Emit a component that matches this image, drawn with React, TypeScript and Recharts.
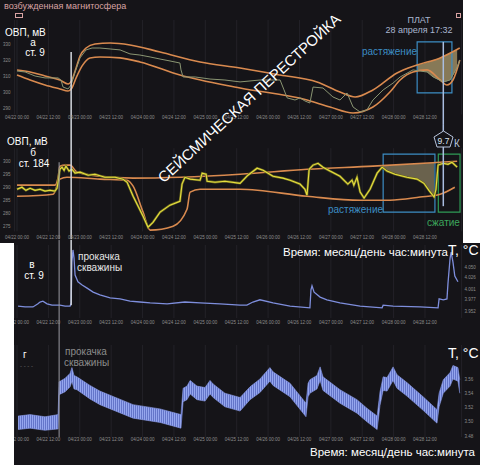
import React from 'react';
import {
  ComposedChart,
  Line,
  Area,
  XAxis,
  YAxis,
  CartesianGrid,
  ReferenceLine,
  ReferenceArea,
} from 'recharts';

const FONT = '"Liberation Sans", Arial, sans-serif';
const BG = '#151418';
const ORANGE = '#d98a4f';
const STEEL = '#3c8dc4';

// time in hours since 04/22 00:00
const timeTicks = [0, 12, 24, 36, 48, 60, 72, 84, 96, 108, 120, 132, 144, 156];
const pumpStart = 16.1;
const pumpPeak = 20.7;
const platTime = 163;

// а — ОВП, ст. 9 [hour, mV]
const orpA_ticks = [290, 300, 310, 320, 330];
const orpA_trace = [
  [0, 313.1], [3.1, 312.5], [6.9, 310], [10.7, 308.8], [15.7, 308.8], [16.8, 307.5],
  [17.6, 303.1], [19.5, 301.9], [20.7, 304.4], [22.2, 312.5], [24.1, 321.3], [26.4, 326.3],
  [28.7, 327.5], [31.7, 327.5], [35.6, 326.9], [39.4, 326.3], [43.2, 323.8], [47, 323.1],
  [50.9, 321.9], [54.7, 320.6], [58.5, 319.4], [62.3, 318.1], [62.7, 313.8], [63.5, 309.4],
  [68.1, 309.4], [73.8, 308.1], [79.5, 307.5], [85.3, 306.3], [92.9, 307.5], [100.6, 307.5],
  [102.1, 301.3], [103.3, 296.3], [106.3, 295], [108.2, 296.3], [110.1, 294.4], [112, 293.1],
  [113.2, 303.1], [117, 302.5], [120.8, 296.9], [123.5, 295], [126.2, 299.4], [128.5, 290.6],
  [131.2, 287.5], [133.8, 288.8], [136.1, 295], [140, 301.3], [143.8, 305.6], [146.5, 309.4],
  [151.4, 313.8], [154.1, 313.1], [156.8, 312.5], [159.1, 309.4], [163, 306.3], [165.6, 307.5],
  [168.3, 315.6], [169.3, 320],
];
const orpA_upper = [
  [0, 313.8], [5, 312.5], [10.7, 310], [16.4, 307.5], [19.5, 305], [21, 307.5], [22.6, 315],
  [24.1, 322.5], [26.4, 327.5], [29.8, 330], [35.6, 330.6], [43.2, 329.4], [54.7, 325],
  [70, 318.8], [85.3, 315], [100.6, 310.6], [114.7, 306.3], [123.5, 300], [129.3, 296.9],
  [136.1, 301.3], [145.3, 311.9], [153, 316.9], [161.8, 321.3], [169.3, 327.5],
];
const orpA_lower = [
  [0, 310.6], [5, 307.5], [10.7, 304.4], [16.4, 301.9], [19.5, 300.6], [21, 302.5],
  [22.6, 308.8], [24.9, 316.3], [27.9, 321.3], [31.7, 321.9], [39.4, 321.3], [47, 318.8],
  [62.3, 310.6], [85.3, 302.5], [110.9, 295], [119.7, 290.6], [128.5, 286.9], [136.1, 290.6],
  [142.6, 300], [146.5, 307.5], [151.4, 312.5], [156.8, 313.8], [161.8, 307.5], [164.4, 304.4],
  [166.7, 307.5], [169.3, 320],
];
const orpA_stretch = [
  [153, 313.5, 316.9], [156.8, 312.5, 318.5], [159.1, 309.4, 320], [161.8, 307, 321.3],
  [163.7, 306.3, 323], [165.6, 307.5, 324.5], [167.4, 312, 326], [168.3, 315.6, 326.9],
];

// б — ОВП, ст. 184 [hour, mV]
const orpB_ticks = [275, 280, 285, 290, 295, 300];
const orpB_trace = [
  [0, 289.2], [1.9, 290], [3.4, 288.8], [5, 289.6], [6.9, 288.8], [8.8, 289.2], [10.7, 288.5],
  [12.6, 288.8], [14.5, 288.5], [15.3, 289.6], [15.7, 291.9], [16.4, 296.9], [17.2, 297.7],
  [18, 296.5], [18.7, 298.1], [19.9, 296.2], [21, 296.9], [22.2, 295.4], [24.1, 295.8],
  [27.2, 294.6], [29.8, 295], [33.6, 293.8], [37.5, 293.8], [40.5, 293.1], [42.1, 291.9],
  [44.4, 286.5], [46.3, 282.7], [48.2, 278.8], [50.1, 274.6], [52, 276.5], [54.7, 280.4],
  [58.5, 283.1], [62.3, 284.6], [63.1, 291.2], [64.2, 293.8], [66.2, 293.1], [70, 292.7],
  [70.8, 295.4], [72.3, 295], [72.7, 292.3], [75.7, 291.9], [79.5, 292.3], [85.3, 291.5],
  [88.3, 294.6], [91.8, 297.3], [94.1, 296.5], [97.9, 294.2], [101.7, 293.5], [104.4, 292.7],
  [108.2, 291.2], [110.1, 289.2], [110.9, 286.9], [111.7, 296.9], [113.2, 298.5], [115.1, 299.2],
  [117, 297.7], [119.7, 296.2], [123.5, 294.2], [126.5, 291.2], [128.1, 292.7], [128.8, 290.8],
  [130, 293.8], [131.2, 288.1], [132.7, 285.8], [135, 289.2], [137.7, 295.4], [139.6, 297.7],
  [141.5, 296.2], [144.5, 295], [149.1, 293.8], [153, 293.1], [155.6, 291.5], [157.5, 288.8],
  [159.5, 286.2], [160.2, 289.2], [161, 298.5], [163, 299.2], [164.8, 298.8], [166.3, 299.6],
  [168.3, 297.7],
];
const orpB_upper = [
  [0, 290.8], [14.5, 290.8], [15.7, 293.8], [16.4, 298.1], [18.4, 298.5], [20.3, 298.5],
  [22.9, 295.8], [31.7, 294.2], [44.4, 293.5], [85.3, 295], [110.9, 296.9], [136.1, 298.1],
  [161.8, 299.6], [168.3, 300],
];
const orpB_lower = [
  [0, 286.5], [13.8, 287.3], [16.4, 293.1], [19.1, 293.8], [31.7, 293.1], [42.1, 292.7],
  [44.4, 290.4], [48.2, 280.4], [50.9, 273.5], [59.7, 275], [65, 281.5], [66.2, 288.1],
  [70, 289.2], [85.3, 289.2], [110.9, 286.5], [131.2, 285], [142.6, 285], [154.1, 286.2],
  [161.8, 287.3], [167.4, 290],
];
const orpB_stretch = [
  [139.6, 297.7, 298.3], [144.5, 295, 298.5], [149.1, 293.8, 298.8], [153, 293.1, 299],
  [155.6, 291.5, 299.1], [157.5, 288.8, 299.3], [159.5, 286.2, 299.5],
];

// в — T, °C, ст. 9 [hour, °C]
const tempC_ticks = [3.952, 3.977, 4.001, 4.026, 4.05];
const tempC_trace = [
  [0.4, 3.963], [3.1, 3.961], [6.1, 3.961], [8, 3.968], [8.8, 3.972], [9.9, 3.974], [11.5, 3.968],
  [13.4, 3.965], [16.4, 3.965], [18.4, 3.963], [20.3, 3.963], [20.7, 3.97], [21, 4.061],
  [21.4, 4.088], [21.8, 4.07], [22.2, 4.032], [23.3, 4.017], [24.9, 4.01], [26.8, 4.003],
  [29.1, 3.994], [31.7, 3.988], [35.6, 3.981], [39.4, 3.979], [43.2, 3.974], [47, 3.972],
  [50.9, 3.97], [57.4, 3.968], [64.2, 3.972], [70, 3.97], [77.6, 3.968], [85.3, 3.965],
  [87.9, 3.965], [90.2, 3.972], [92.9, 3.977], [97.9, 3.97], [104.4, 3.963], [112, 3.959],
  [112.4, 3.999], [112.8, 4.008], [113.6, 3.994], [115.9, 3.983], [118.5, 3.977], [123.5, 3.97],
  [131.2, 3.963], [139.6, 3.959], [140, 3.965], [143.8, 3.963], [154.1, 3.961], [161, 3.959],
  [161.4, 3.979], [163, 3.977], [164.4, 3.979], [164.8, 4.014], [165.6, 4.07], [166, 4.083],
  [166.7, 4.061], [167.4, 4.03], [168.6, 4.017],
];

// г — T, °C, ст. 184 [hour, low, high]
const tempD_ticks = [3.48, 3.5, 3.52, 3.54, 3.56];
const tempD_band = [
  [0.4, 3.489, 3.508], [5, 3.491, 3.51], [10.7, 3.488, 3.507], [15.7, 3.49, 3.51],
  [16.1, 3.538, 3.556], [18.4, 3.542, 3.561], [20.3, 3.549, 3.568], [21, 3.557, 3.576],
  [21.8, 3.546, 3.565], [22.9, 3.545, 3.563], [27.9, 3.532, 3.551], [31.7, 3.524, 3.543],
  [44.4, 3.505, 3.524], [54.7, 3.499, 3.518], [62.7, 3.491, 3.51], [63.5, 3.528, 3.547],
  [65, 3.531, 3.55], [66.2, 3.539, 3.558], [68.8, 3.531, 3.55], [71.9, 3.529, 3.548],
  [73.8, 3.539, 3.558], [75, 3.534, 3.553], [79.5, 3.521, 3.54], [85.3, 3.515, 3.534],
  [89.1, 3.531, 3.549], [92.9, 3.541, 3.56], [96.7, 3.557, 3.576], [97.9, 3.551, 3.57],
  [104.4, 3.535, 3.554], [110.5, 3.507, 3.526], [111.3, 3.535, 3.554], [112, 3.54, 3.559],
  [114.7, 3.546, 3.565], [115.9, 3.558, 3.577], [117, 3.544, 3.563], [123.5, 3.526, 3.545],
  [130, 3.512, 3.531], [133.8, 3.5, 3.519], [137.7, 3.489, 3.508], [138.8, 3.523, 3.542],
  [140, 3.544, 3.563], [141.5, 3.543, 3.562], [143.8, 3.558, 3.577], [145.3, 3.547, 3.566],
  [149.1, 3.536, 3.555], [155.3, 3.516, 3.535], [160.6, 3.498, 3.517], [161.4, 3.521, 3.54],
  [163, 3.54, 3.559], [165.6, 3.55, 3.569], [166.7, 3.56, 3.579], [168.6, 3.557, 3.576],
  [169.3, 3.54, 3.559],
];

const pts = (a: number[][]) => a.map(([t, v]) => ({ t, v }));
const rng = (a: number[][]) => a.map(([t, lo, hi]) => ({ t, r: [lo, hi] }));

const fmtHour = (h: number) => `04/${22 + Math.floor(h / 24)} ${h % 24 === 0 ? '00' : '12'}:00`;
const tickStyle = { fontSize: 4.5, fill: '#8c8c8c', fontFamily: FONT };

const xAxisProps = {
  type: 'number' as const,
  dataKey: 't',
  domain: [-1, 170],
  ticks: timeTicks,
  tickFormatter: fmtHour,
  allowDataOverflow: true,
  interval: 0 as const,
  tickLine: false,
  axisLine: false,
  tick: tickStyle,
};

const Txt = ({ x, y, size = 10, color = '#fff', children, style }: any) => (
  <div
    style={{
      position: 'absolute', left: x, top: y, fontSize: size, color, lineHeight: 1,
      whiteSpace: 'nowrap', fontFamily: FONT, ...style,
    }}
  >
    {children}
  </div>
);

export default function App() {
  return (
    <div style={{ position: 'absolute', left: 0, top: 0, width: 480, height: 465, background: BG, overflow: 'hidden' }}>
      {/* а */}
      <div style={{ position: 'absolute', left: 0, top: 0 }}>
        <ComposedChart width={480} height={125} data={rng(orpA_stretch)} margin={{ top: 20, right: 18.4, bottom: 0, left: 0 }}>
          <CartesianGrid vertical horizontal={false} stroke="#232228" />
          <XAxis {...xAxisProps} height={10.6} tickSize={0} tickMargin={1.6} />
          <YAxis type="number" domain={[286, 345]} ticks={orpA_ticks} allowDataOverflow width={14.4}
            tickLine={false} axisLine={false} tickSize={0} tickMargin={4} tick={tickStyle} />
          <Area dataKey="r" stroke="none" fill="#8d7e5b" fillOpacity={0.95} isAnimationActive={false} />
          <ReferenceArea x1={153} x2={166.3} y1={299.4} y2={331.3} fill="none" stroke={STEEL} strokeWidth={1.2} ifOverflow="visible" />
          <Line data={pts(orpA_upper)} dataKey="v" type="monotone" stroke={ORANGE} strokeWidth={1.6} dot={false} isAnimationActive={false} />
          <Line data={pts(orpA_lower)} dataKey="v" type="monotone" stroke={ORANGE} strokeWidth={1.6} dot={false} isAnimationActive={false} />
          <Line data={pts(orpA_trace)} dataKey="v" type="linear" stroke="#8a9572" strokeWidth={1} dot={false} isAnimationActive={false} />
          <ReferenceLine segment={[{ x: pumpPeak, y: 325 }, { x: pumpPeak, y: 279.4 }]} stroke="#d4d7de" strokeWidth={1.5} ifOverflow="visible" />
          <ReferenceLine segment={[{ x: platTime, y: 331.3 }, { x: platTime, y: 279.4 }]} stroke="#a9bde0" strokeWidth={1.5} ifOverflow="visible" />
        </ComposedChart>
      </div>

      {/* б */}
      <div style={{ position: 'absolute', left: 0, top: 125 }}>
        <ComposedChart width={480} height={115} data={rng(orpB_stretch)} margin={{ top: 23.2, right: 18.4, bottom: 0, left: 0 }}>
          <CartesianGrid vertical horizontal={false} stroke="#232228" />
          <XAxis {...xAxisProps} height={8.6} tickSize={2} tickMargin={2.6} />
          <YAxis type="number" domain={[273, 305]} ticks={orpB_ticks} allowDataOverflow width={14.4}
            tickLine={false} axisLine={false} tickSize={0} tickMargin={4} tick={tickStyle} />
          <Area dataKey="r" stroke="none" fill="#6f6650" fillOpacity={0.95} isAnimationActive={false} />
          <ReferenceArea x1={140} x2={159.8} y1={280.4} y2={302.7} fill="none" stroke={STEEL} strokeWidth={1.2} ifOverflow="visible" />
          <ReferenceArea x1={161.1} x2={169.4} y1={280.4} y2={302.7} fill="none" stroke="#2f9a55" strokeWidth={1.2} ifOverflow="visible" />
          <Line data={pts(orpB_upper)} dataKey="v" type="monotone" stroke={ORANGE} strokeWidth={1.6} dot={false} isAnimationActive={false} />
          <Line data={pts(orpB_lower)} dataKey="v" type="monotone" stroke={ORANGE} strokeWidth={1.6} dot={false} isAnimationActive={false} />
          <Line data={pts(orpB_trace)} dataKey="v" type="linear" stroke="#6c6920" strokeWidth={2.4} dot={false} isAnimationActive={false} />
          <Line data={pts(orpB_trace)} dataKey="v" type="linear" stroke="#e6df3e" strokeWidth={1.1} dot={false} isAnimationActive={false} />
          <ReferenceLine segment={[{ x: pumpPeak, y: 314.2 }, { x: pumpPeak, y: 270 }]} stroke="#d4d7de" strokeWidth={1.5} ifOverflow="visible" />
          <ReferenceLine segment={[{ x: pumpStart, y: 299.6 }, { x: pumpStart, y: 270 }]} stroke="#9a9aa2" strokeWidth={1} ifOverflow="visible" />
          <ReferenceLine segment={[{ x: platTime, y: 314.2 }, { x: platTime, y: 282.7 }]} stroke="#a9bde0" strokeWidth={1.5} ifOverflow="visible" />
        </ComposedChart>
      </div>

      {/* в */}
      <div style={{ position: 'absolute', left: 0, top: 240 }}>
        <ComposedChart width={480} height={100} margin={{ top: 5, right: 0, bottom: 0, left: 14.4 }}>
          <CartesianGrid vertical horizontal={false} stroke="#232228" />
          <XAxis {...xAxisProps} height={22} tickSize={2} tickMargin={1} />
          <YAxis orientation="right" type="number" domain={[3.9364, 4.099]} ticks={tempC_ticks} allowDataOverflow width={18.4}
            tickLine={false} axisLine={false} tickSize={0} tickMargin={3} tick={tickStyle} tickFormatter={(v: number) => v.toFixed(3)} />
          <Line data={pts(tempC_trace)} dataKey="v" type="linear" stroke="#7e8edc" strokeWidth={1.3} dot={false} isAnimationActive={false} />
          <ReferenceLine segment={[{ x: pumpPeak, y: 4.11 }, { x: pumpPeak, y: 3.965 }]} stroke="#d4d7de" strokeWidth={1.5} ifOverflow="visible" />
          <ReferenceLine segment={[{ x: pumpStart, y: 4.11 }, { x: pumpStart, y: 3.887 }]} stroke="#9a9aa2" strokeWidth={1} ifOverflow="visible" />
        </ComposedChart>
      </div>

      {/* г */}
      <div style={{ position: 'absolute', left: 0, top: 340 }}>
        <ComposedChart width={480} height={125} data={rng(tempD_band)} margin={{ top: 5, right: 0, bottom: 0, left: 14.4 }}>
          <defs>
            <pattern id="noiseD" width="2" height="4" patternUnits="userSpaceOnUse">
              <rect width="2" height="4" fill="#6475c9" />
              <rect width="1" height="4" fill="#95a6ee" />
            </pattern>
          </defs>
          <CartesianGrid vertical horizontal={false} stroke="#232228" />
          <XAxis {...xAxisProps} height={28} tickSize={0} tickMargin={1} />
          <YAxis orientation="right" type="number" domain={[3.4786, 3.6077]} ticks={tempD_ticks} allowDataOverflow width={18.4}
            tickLine={false} axisLine={false} tickSize={0} tickMargin={3} tick={tickStyle} tickFormatter={(v: number) => v.toFixed(2)} />
          <Area dataKey="r" type="linear" stroke="#8a9ae6" strokeWidth={0.6} fill="url(#noiseD)" fillOpacity={1} isAnimationActive={false} />
          <ReferenceLine segment={[{ x: pumpStart, y: 3.6147 }, { x: pumpStart, y: 3.4786 }]} stroke="#9a9aa2" strokeWidth={1} ifOverflow="visible" />
        </ComposedChart>
      </div>

      {/* white margins of the collage */}
      <div style={{ position: 'absolute', left: 463, top: 0, width: 17, height: 243, background: '#fff' }} />
      <div style={{ position: 'absolute', left: 0, top: 243, width: 14, height: 222, background: '#fff' }} />

      {/* annotations, panel а */}
      <Txt x={4} y={1.5} size={9} color="#d9a3a3">возбужденная магнитосфера</Txt>
      <div style={{ position: 'absolute', left: 15, top: 13, width: 6, height: 3, border: '1px solid #d9a3a3' }} />
      <div style={{ position: 'absolute', left: 456, top: 13, width: 3, height: 3, border: '1px solid #d9a3a3' }} />
      <Txt x={5} y={27.5}>ОВП, мВ</Txt>
      <Txt x={16} y={38} style={{ width: 34, textAlign: 'center' }}>а</Txt>
      <Txt x={16} y={47.5} style={{ width: 38, textAlign: 'center' }}>ст. 9</Txt>
      <Txt x={419} y={16} size={9} color="#a9b6cf" style={{ transform: 'translateX(-50%)' }}>ПЛАТ</Txt>
      <Txt x={419} y={25.5} size={9} color="#a9b6cf" style={{ transform: 'translateX(-50%)' }}>28 апреля 17:32</Txt>
      <Txt x={362} y={46.5} size={10} color={STEEL}>растяжение</Txt>
      <Txt x={249} y={98} size={15} style={{ transform: 'translate(-50%, -50%) rotate(-42.5deg)' }}>
        СЕЙСМИЧЕСКАЯ ПЕРЕСТРОЙКА
      </Txt>

      {/* panel б */}
      <Txt x={7} y={137}>ОВП, мВ</Txt>
      <Txt x={16} y={148} style={{ width: 34, textAlign: 'center' }}>б</Txt>
      <Txt x={16} y={158.5} style={{ width: 36, textAlign: 'center' }}>ст. 184</Txt>
      <Txt x={328} y={204.5} color={STEEL}>растяжение</Txt>
      <Txt x={427} y={217.5} color="#3ca65c">сжатие</Txt>
      <svg style={{ position: 'absolute', left: 433, top: 130 }} width={21} height={18}>
        <polygon points="10.5,1 20,7 17,17 4,17 1,7" fill={BG} stroke="#b7c4dc" strokeWidth={1} />
        <text x={10.5} y={14} textAnchor="middle" fontSize={8.5} fill="#dde3ee" fontFamily={FONT}>9.7</text>
      </svg>
      <Txt x={454} y={139} color="#b7c4dc">К</Txt>

      {/* panel в */}
      <Txt x={15} y={259.5} style={{ width: 34, textAlign: 'center' }}>в</Txt>
      <Txt x={15} y={270.5} style={{ width: 38, textAlign: 'center' }}>ст. 9</Txt>
      <Txt x={78} y={251.5} color="#e6e6e6">прокачка</Txt>
      <Txt x={77} y={262.5} color="#e6e6e6">скважины</Txt>
      <Txt x={283} y={247} size={11.5}>Время: месяц/день час:минута</Txt>
      <Txt x={448} y={242.5} size={14}>Т, °С</Txt>

      {/* panel г */}
      <Txt x={23} y={349.5}>г</Txt>
      <Txt x={20} y={363} size={6} color="#777">- - - -</Txt>
      <Txt x={65} y={346.5} color="#8c8c8c">прокачка</Txt>
      <Txt x={64} y={357.5} color="#8c8c8c">скважины</Txt>
      <Txt x={448} y={345.5} size={14}>Т, °С</Txt>
      <Txt x={310} y={446.5} size={11.5}>Время: месяц/день час:минута</Txt>
    </div>
  );
}
